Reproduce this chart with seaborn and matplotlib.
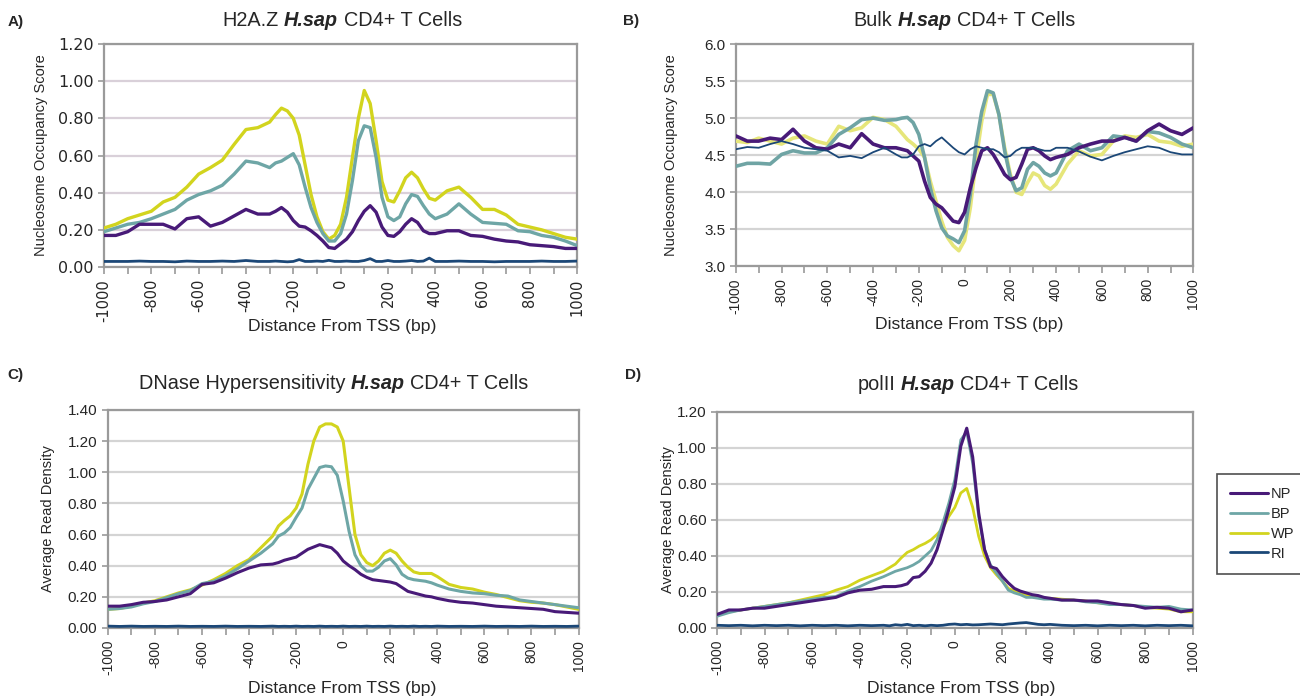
import numpy as np
import pandas as pd
import matplotlib
matplotlib.use("Agg")
import matplotlib.pyplot as plt
import seaborn as sns
from matplotlib.ticker import MultipleLocator, FormatStrFormatter

# ---------------- data ----------------
X = [-1000, -950, -900, -850, -800, -750, -700, -650, -600, -550, -500, -450, -400, -350, -300,
     -275, -250, -225, -200, -175, -150, -125, -100, -75, -50, -25, 0, 25, 50, 75, 100, 125, 150,
     175, 200, 225, 250, 275, 300, 325, 350, 375, 400,
     450, 500, 550, 600, 650, 700, 750, 800, 850, 900, 950, 1000]

SERIES = ["NP", "BP", "WP", "RI"]

# Panel A: H2A.Z
A_WP = [0.21, 0.23, 0.26, 0.28, 0.30, 0.35, 0.375, 0.43, 0.50, 0.535, 0.575, 0.66, 0.74, 0.75, 0.78,
        0.82, 0.855, 0.84, 0.80, 0.71, 0.55, 0.39, 0.27, 0.19, 0.15, 0.17, 0.23, 0.375, 0.59, 0.80,
        0.95, 0.88, 0.68, 0.46, 0.36, 0.35, 0.41, 0.48, 0.51, 0.48, 0.42, 0.37, 0.36,
        0.41, 0.43, 0.375, 0.31, 0.31, 0.28, 0.23, 0.215, 0.20, 0.18, 0.16, 0.15]
A_BP = [0.19, 0.21, 0.23, 0.24, 0.26, 0.285, 0.31, 0.36, 0.39, 0.41, 0.44, 0.50, 0.57, 0.56, 0.535,
        0.56, 0.57, 0.59, 0.61, 0.55, 0.43, 0.32, 0.24, 0.18, 0.14, 0.14, 0.18, 0.285, 0.465, 0.68,
        0.76, 0.75, 0.59, 0.375, 0.27, 0.25, 0.27, 0.34, 0.39, 0.38, 0.33, 0.285, 0.26,
        0.285, 0.34, 0.285, 0.24, 0.235, 0.23, 0.195, 0.19, 0.17, 0.16, 0.14, 0.115]
A_NP = [0.17, 0.17, 0.19, 0.23, 0.23, 0.23, 0.205, 0.26, 0.27, 0.22, 0.24, 0.275, 0.31, 0.285, 0.285,
        0.30, 0.32, 0.295, 0.25, 0.22, 0.215, 0.195, 0.17, 0.14, 0.105, 0.10, 0.125, 0.15, 0.19, 0.25,
        0.30, 0.33, 0.295, 0.215, 0.17, 0.165, 0.19, 0.23, 0.26, 0.24, 0.195, 0.18, 0.18,
        0.195, 0.195, 0.17, 0.165, 0.15, 0.14, 0.135, 0.12, 0.115, 0.11, 0.10, 0.10]
A_RI = [0.03, 0.03, 0.03, 0.032, 0.03, 0.03, 0.028, 0.032, 0.03, 0.03, 0.032, 0.03, 0.035, 0.03, 0.03,
        0.032, 0.03, 0.028, 0.03, 0.04, 0.03, 0.03, 0.032, 0.03, 0.036, 0.03, 0.03, 0.032, 0.03, 0.03,
        0.035, 0.045, 0.03, 0.03, 0.035, 0.03, 0.03, 0.032, 0.035, 0.03, 0.032, 0.048, 0.03,
        0.03, 0.032, 0.03, 0.03, 0.028, 0.03, 0.03, 0.03, 0.032, 0.03, 0.03, 0.032]

# Panel B: Bulk
B_WP = [4.69, 4.67, 4.73, 4.69, 4.65, 4.73, 4.76, 4.69, 4.65, 4.89, 4.83, 4.87, 5.01, 4.98, 4.89,
        4.80, 4.71, 4.65, 4.58, 4.47, 4.15, 3.88, 3.61, 3.39, 3.28, 3.21, 3.35, 3.79, 4.42, 4.96,
        5.32, 5.32, 5.05, 4.60, 4.24, 4.00, 3.97, 4.13, 4.26, 4.22, 4.09, 4.04, 4.11,
        4.38, 4.56, 4.49, 4.51, 4.69, 4.76, 4.74, 4.78, 4.69, 4.67, 4.62, 4.65]
B_BP = [4.35, 4.39, 4.39, 4.38, 4.51, 4.56, 4.53, 4.53, 4.60, 4.78, 4.87, 4.98, 5.00, 4.97, 4.98,
        5.00, 5.01, 4.94, 4.78, 4.47, 4.06, 3.75, 3.52, 3.41, 3.37, 3.32, 3.48, 3.97, 4.65, 5.09,
        5.37, 5.34, 5.05, 4.56, 4.20, 4.02, 4.06, 4.31, 4.40, 4.35, 4.26, 4.22, 4.26,
        4.56, 4.65, 4.56, 4.60, 4.76, 4.74, 4.69, 4.82, 4.80, 4.74, 4.65, 4.60]
B_NP = [4.76, 4.69, 4.69, 4.73, 4.71, 4.85, 4.69, 4.60, 4.58, 4.65, 4.60, 4.79, 4.65, 4.60, 4.60,
        4.58, 4.56, 4.49, 4.42, 4.15, 3.93, 3.84, 3.79, 3.70, 3.61, 3.59, 3.73, 4.06, 4.33, 4.56,
        4.60, 4.51, 4.38, 4.24, 4.17, 4.20, 4.38, 4.58, 4.60, 4.56, 4.49, 4.44, 4.47,
        4.51, 4.60, 4.65, 4.69, 4.69, 4.74, 4.69, 4.83, 4.92, 4.83, 4.78, 4.87]
B_RI = [4.58, 4.61, 4.60, 4.65, 4.69, 4.65, 4.60, 4.58, 4.56, 4.47, 4.49, 4.46, 4.54, 4.60, 4.51,
        4.47, 4.47, 4.51, 4.62, 4.65, 4.62, 4.69, 4.74, 4.67, 4.60, 4.54, 4.51, 4.58, 4.62, 4.60,
        4.58, 4.58, 4.54, 4.47, 4.49, 4.56, 4.60, 4.60, 4.60, 4.58, 4.56, 4.56, 4.60,
        4.60, 4.55, 4.48, 4.43, 4.49, 4.54, 4.58, 4.62, 4.60, 4.54, 4.51, 4.51]

# Panel C: DNase
C_WP = [0.12, 0.125, 0.14, 0.16, 0.175, 0.20, 0.225, 0.245, 0.275, 0.31, 0.35, 0.40, 0.44, 0.515, 0.59,
        0.655, 0.69, 0.72, 0.77, 0.86, 1.05, 1.20, 1.29, 1.31, 1.31, 1.29, 1.20, 0.90, 0.60, 0.47,
        0.42, 0.40, 0.43, 0.48, 0.50, 0.48, 0.43, 0.39, 0.36, 0.35, 0.35, 0.35, 0.33,
        0.28, 0.26, 0.25, 0.23, 0.215, 0.195, 0.175, 0.165, 0.16, 0.15, 0.135, 0.12]
C_BP = [0.12, 0.125, 0.135, 0.155, 0.17, 0.195, 0.22, 0.24, 0.285, 0.30, 0.335, 0.38, 0.43, 0.48, 0.54,
        0.59, 0.61, 0.645, 0.71, 0.77, 0.89, 0.96, 1.03, 1.04, 1.035, 0.98, 0.815, 0.62, 0.47, 0.40,
        0.365, 0.365, 0.39, 0.43, 0.445, 0.405, 0.345, 0.32, 0.31, 0.305, 0.30, 0.29, 0.275,
        0.25, 0.235, 0.225, 0.22, 0.21, 0.205, 0.18, 0.17, 0.16, 0.15, 0.14, 0.13]
C_NP = [0.14, 0.14, 0.15, 0.165, 0.17, 0.18, 0.20, 0.22, 0.28, 0.29, 0.32, 0.355, 0.385, 0.405, 0.41,
        0.42, 0.435, 0.445, 0.455, 0.48, 0.505, 0.52, 0.535, 0.525, 0.515, 0.48, 0.43, 0.40, 0.375, 0.345,
        0.325, 0.31, 0.305, 0.30, 0.295, 0.285, 0.26, 0.235, 0.225, 0.215, 0.205, 0.20, 0.19,
        0.175, 0.165, 0.16, 0.15, 0.14, 0.135, 0.13, 0.125, 0.12, 0.105, 0.10, 0.095]
C_RI = [0.012, 0.01, 0.012, 0.01, 0.011, 0.01, 0.012, 0.01, 0.011, 0.01, 0.012, 0.01, 0.011, 0.01, 0.012,
        0.01, 0.011, 0.01, 0.012, 0.01, 0.011, 0.01, 0.012, 0.01, 0.011, 0.01, 0.012, 0.01, 0.011, 0.01,
        0.012, 0.01, 0.011, 0.01, 0.012, 0.01, 0.011, 0.01, 0.012, 0.01, 0.011, 0.01, 0.012,
        0.01, 0.011, 0.01, 0.012, 0.01, 0.011, 0.01, 0.012, 0.01, 0.011, 0.01, 0.012]

# Panel D: polII
D_WP = [0.075, 0.09, 0.10, 0.11, 0.12, 0.13, 0.14, 0.155, 0.17, 0.185, 0.21, 0.23, 0.265, 0.29, 0.315,
        0.335, 0.355, 0.39, 0.42, 0.435, 0.455, 0.47, 0.49, 0.52, 0.555, 0.62, 0.67, 0.75, 0.775, 0.67,
        0.51, 0.40, 0.335, 0.295, 0.26, 0.22, 0.205, 0.195, 0.185, 0.18, 0.17, 0.165, 0.165,
        0.16, 0.155, 0.15, 0.14, 0.135, 0.13, 0.125, 0.115, 0.11, 0.105, 0.09, 0.09]
D_BP = [0.065, 0.085, 0.10, 0.11, 0.12, 0.13, 0.14, 0.15, 0.16, 0.17, 0.175, 0.205, 0.23, 0.26, 0.285,
        0.30, 0.315, 0.325, 0.335, 0.35, 0.37, 0.40, 0.43, 0.49, 0.585, 0.695, 0.825, 1.045, 1.09, 0.915,
        0.62, 0.435, 0.35, 0.305, 0.26, 0.21, 0.195, 0.185, 0.17, 0.17, 0.165, 0.16, 0.16,
        0.155, 0.155, 0.145, 0.14, 0.13, 0.13, 0.125, 0.12, 0.115, 0.12, 0.105, 0.10]
D_NP = [0.075, 0.10, 0.10, 0.11, 0.11, 0.12, 0.13, 0.14, 0.15, 0.16, 0.17, 0.195, 0.21, 0.215, 0.23,
        0.23, 0.23, 0.235, 0.245, 0.28, 0.285, 0.315, 0.36, 0.435, 0.545, 0.66, 0.785, 1.01, 1.11, 0.95,
        0.64, 0.435, 0.34, 0.33, 0.285, 0.25, 0.22, 0.205, 0.195, 0.185, 0.18, 0.17, 0.165,
        0.155, 0.155, 0.15, 0.15, 0.14, 0.13, 0.125, 0.11, 0.115, 0.11, 0.09, 0.10]
D_RI = [0.015, 0.013, 0.015, 0.012, 0.015, 0.013, 0.015, 0.012, 0.015, 0.013, 0.015, 0.012, 0.015, 0.013, 0.015,
        0.012, 0.018, 0.015, 0.02, 0.013, 0.015, 0.012, 0.015, 0.013, 0.015, 0.02, 0.022, 0.018, 0.02, 0.017,
        0.018, 0.02, 0.022, 0.02, 0.018, 0.022, 0.025, 0.028, 0.03, 0.025, 0.02, 0.018, 0.02,
        0.015, 0.013, 0.015, 0.012, 0.015, 0.013, 0.015, 0.012, 0.015, 0.013, 0.015, 0.012]

TITLES = ["H2A.Z", "Bulk", "DNase Hypersensitivity", "polII"]
SPECIES = "H.sap"
TITLE_TAIL = "CD4+ T Cells"
PANEL_TAGS = ["A)", "B)", "C)", "D)"]
YLABELS = ["Nucleosome Occupancy Score", "Nucleosome Occupancy Score",
           "Average Read Density", "Average Read Density"]

# ---------------- style ----------------
sns.set_style("white")
plt.rcParams["font.family"] = ["Liberation Sans", "DejaVu Sans"]
plt.rcParams["axes.unicode_minus"] = False

COLORS = {"NP": "#481a78", "BP": "#6ea6a6", "WP": "#d2d41e", "RI": "#1b4777"}

fig = plt.figure(figsize=(13, 6.99), dpi=100)
renderer = fig.canvas.get_renderer()


def text_width(s, **kw):
    t = fig.text(0, 0, s, **kw)
    w = t.get_window_extent(renderer).width
    t.remove()
    return w


def mixed_title(xc, y, pieces, fontsize):
    gap = text_width("H H", fontsize=fontsize) - text_width("HH", fontsize=fontsize)
    widths = [text_width(s, fontsize=fontsize, **kw) for s, kw in pieces]
    total = sum(widths) + gap * (len(pieces) - 1)
    x = xc * fig.bbox.width - total / 2
    for (s, kw), w in zip(pieces, widths):
        fig.text(x / fig.bbox.width, y, s, ha="left", va="center", fontsize=fontsize, **kw)
        x += w + gap


panels = [
    dict(pos=[0.080, 0.618, 0.364, 0.319], data=dict(NP=A_NP, BP=A_BP, WP=A_WP, RI=A_RI),
         ylim=(0, 1.2), ystep=0.2, fmt="%.2f", lw=dict(NP=2.4, BP=2.4, WP=2.4, RI=2.0),
         grid="#d9d0d9", tfont="DejaVu Sans", tsize=10.5,
         cols=dict(COLORS)),
    dict(pos=[0.566, 0.619, 0.352, 0.318], data=dict(NP=B_NP, BP=B_BP, WP=B_WP, RI=B_RI),
         ylim=(3.0, 6.0), ystep=0.5, fmt="%.1f", lw=dict(NP=2.6, BP=2.6, WP=2.6, RI=1.3),
         grid="#d4d4d4", tfont="Liberation Sans", tsize=10,
         cols=dict(COLORS, WP="#e6e67a", BP="#6fa4a4")),
    dict(pos=[0.083, 0.1016, 0.362, 0.312], data=dict(NP=C_NP, BP=C_BP, WP=C_WP, RI=C_RI),
         ylim=(0, 1.4), ystep=0.2, fmt="%.2f", lw=dict(NP=2.2, BP=2.2, WP=2.2, RI=2.0),
         grid="#d4d4d4", tfont="Liberation Sans", tsize=10,
         cols=dict(COLORS)),
    dict(pos=[0.5515, 0.1016, 0.366, 0.309], data=dict(NP=D_NP, BP=D_BP, WP=D_WP, RI=D_RI),
         ylim=(0, 1.2), ystep=0.2, fmt="%.2f", lw=dict(NP=2.2, BP=2.0, WP=2.0, RI=2.0),
         grid="#d4d4d4", tfont="Liberation Sans", tsize=10,
         cols=dict(COLORS)),
]

title_rel = [0.503, 0.50, 0.48, 0.527]
title_y = [1 - 20 / 699, 1 - 21 / 699, 1 - 383 / 699, 1 - 385 / 699]
tag_pos = [(0.006, 1 - 22 / 699), (0.479, 1 - 21 / 699), (0.006, 1 - 375 / 699), (0.481, 1 - 375 / 699)]
xlabel_rel = [0.504, 0.51, 0.497, 0.513]
xlabel_y = [1 - 327 / 699, 1 - 325 / 699, 1 - 688 / 699, 1 - 688 / 699]
ylabel_x = [-0.119, -0.127, -0.113, -0.088]

draw_order = ["WP", "BP", "NP", "RI"]

for i, p in enumerate(panels):
    ax = fig.add_axes(p["pos"])
    for s in draw_order:
        df = pd.DataFrame({"x": X, "y": p["data"][s]})
        sns.lineplot(data=df, x="x", y="y", ax=ax, color=p["cols"][s], lw=p["lw"][s],
                     label=s if i == 3 else None, legend=False, zorder=3 if s != "RI" else 4)
    ax.set_xlim(-1000, 1000)
    ax.set_ylim(*p["ylim"])
    ax.xaxis.set_major_locator(MultipleLocator(200))
    ax.xaxis.set_minor_locator(MultipleLocator(100))
    ax.yaxis.set_major_locator(MultipleLocator(p["ystep"]))
    ax.yaxis.set_major_formatter(FormatStrFormatter(p["fmt"]))
    ax.grid(axis="y", color=p["grid"], lw=1.6, zorder=0)
    ax.set_axisbelow(True)
    for sp in ax.spines.values():
        sp.set_color("#9a9a9a")
        sp.set_linewidth(1.6)
    ax.tick_params(axis="x", which="both", direction="out", length=5, color="#9a9a9a",
                   bottom=True, width=1.2)
    ax.tick_params(axis="y", which="major", direction="out", length=4, color="#9a9a9a",
                   left=True, width=1.2)
    for lab in ax.get_xticklabels():
        lab.set_rotation(90)
        lab.set_fontsize(p["tsize"])
        lab.set_family(p["tfont"])
    for lab in ax.get_yticklabels():
        lab.set_fontsize(p["tsize"] + 1)
        lab.set_family(p["tfont"])
    ax.set_xlabel("")
    ax.set_ylabel(YLABELS[i], fontsize=10.5)
    ax.yaxis.set_label_coords(ylabel_x[i], 0.5)
    x0, w = p["pos"][0], p["pos"][2]
    mixed_title(x0 + title_rel[i] * w, title_y[i],
                [(TITLES[i], {}), (SPECIES, dict(fontweight="bold", fontstyle="italic")),
                 (TITLE_TAIL, {})], 14.3)
    fig.text(*tag_pos[i], PANEL_TAGS[i], ha="left", va="center", fontsize=11, fontweight="bold")
    fig.text(x0 + xlabel_rel[i] * w, xlabel_y[i], "Distance From TSS (bp)", ha="center",
             va="center", fontsize=12.6)

    if i == 3:
        handles, labels = ax.get_legend_handles_labels()
        order = [labels.index(s) for s in SERIES]
        leg = fig.legend([handles[k] for k in order], [labels[k] for k in order],
                         loc="upper left", bbox_to_anchor=(0.936, 0.322), frameon=True,
                         fancybox=False, edgecolor="#222222", fontsize=10.5, handlelength=2.6,
                         handletextpad=0.2, labelspacing=0.4, borderpad=0.9, borderaxespad=0)
        leg.get_frame().set_linewidth(1.2)

fig.savefig("out.png", dpi=100)
